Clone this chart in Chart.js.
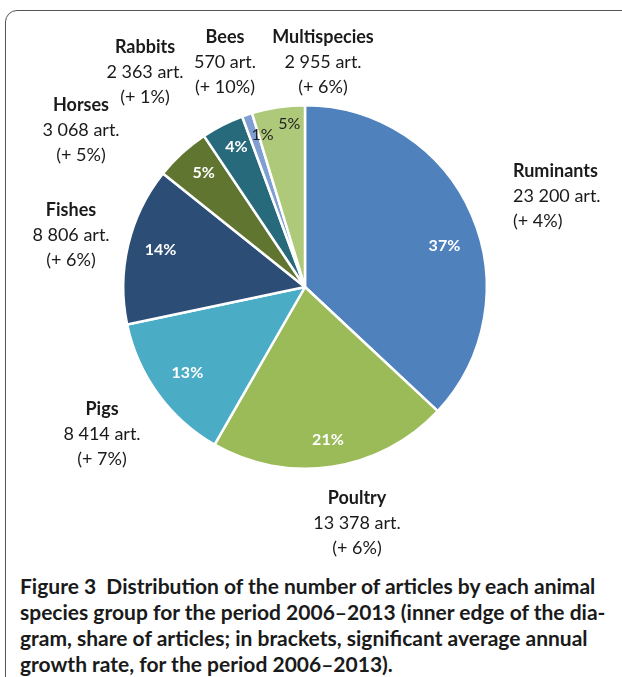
<!DOCTYPE html>
<html>
<head>
<meta charset="utf-8">
<script src="https://cdn.jsdelivr.net/npm/chart.js@4"></script>
<style>
  html, body { margin: 0; padding: 0; background: #fff; }
  body { width: 622px; height: 677px; position: relative; overflow: hidden; }
  #frame {
    position: absolute; left: 5px; top: 10px; width: 700px; height: 720px;
    border: 1.5px solid #555; border-radius: 12px;
  }
  #wrap { position: absolute; left: 0; top: 0; width: 622px; height: 565px; }
  #caption {
    position: absolute; left: 20px; top: 573px; white-space: nowrap;
    font-family: Lato, "Open Sans", sans-serif; font-weight: 700;
    font-size: 21px; line-height: 26px; color: #1a1a1a;
  }
</style>
</head>
<body>
<div id="frame"></div>
<div id="wrap"><canvas id="pie" width="622" height="565"></canvas></div>
<div id="caption">
  Figure 3&nbsp; Distribution of the number of articles by each animal<br>
  species group for the period 2006–2013 (inner edge of the dia-<br>
  gram, share of articles; in brackets, significant average annual<br>
  growth rate, for the period 2006–2013).
</div>
<script>
// 動物種グループ別の論文数 (2006–2013)
const groups = ["Ruminants", "Poultry", "Pigs", "Fishes", "Horses", "Rabbits", "Bees", "Multispecies"];
const articles = [23200, 13378, 8414, 8806, 3068, 2363, 570, 2955];
const growth = ["(+ 4%)", "(+ 6%)", "(+ 7%)", "(+ 6%)", "(+ 5%)", "(+ 1%)", "(+ 10%)", "(+ 6%)"];
const colors = ["#4f81bd", "#9bbb59", "#4bacc6", "#2c4d75", "#5f7530", "#276a7c", "#7f9fd2", "#afc97a"];
const pctColors = ["#fff", "#fff", "#fff", "#fff", "#fff", "#fff", "#222", "#222"];

// 外側ラベルの位置 (1行目の中心) と揃え
const outerLabels = [
  { x: 513, y: 171, align: "left" },
  { x: 357, y: 498, align: "center" },
  { x: 102, y: 409, align: "center" },
  { x: 71, y: 210, align: "center" },
  { x: 81, y: 105, align: "center" },
  { x: 145, y: 47, align: "center" },
  { x: 225, y: 37, align: "center" },
  { x: 323, y: 37, align: "center" },
];
// 内側の%ラベル: 半径方向の位置と角度の微調整 (度)
const pctRadius = [0.80, 0.85, 0.80, 0.82, 0.84, 0.86, 0.87, 0.90];
const pctTurn = [7, 0, 0, 1, 1, 1, 3, 3];

function fmt(n) {
  return String(n).replace(/\B(?=(\d{3})+(?!\d))/g, " ");
}

const labelPlugin = {
  id: "pieLabels",
  afterDraw(chart) {
    const ctx = chart.ctx;
    const meta = chart.getDatasetMeta(0);
    const total = articles.reduce((s, v) => s + v, 0);
    ctx.save();
    ctx.textBaseline = "middle";

    meta.data.forEach((arc, i) => {
      const p = arc.getProps(["x", "y", "startAngle", "endAngle", "outerRadius"], true);
      const mid = (p.startAngle + p.endAngle) / 2 + (pctTurn[i] * Math.PI) / 180;
      const r = p.outerRadius * pctRadius[i];
      const pct = Math.round((articles[i] / total) * 100) + "%";
      ctx.fillStyle = pctColors[i];
      ctx.font = (pctColors[i] === "#fff" ? "bold " : "") + "16px Lato, sans-serif";
      ctx.textAlign = "center";
      ctx.fillText(pct, p.x + Math.cos(mid) * r, p.y + Math.sin(mid) * r);
    });

    ctx.fillStyle = "#1a1a1a";
    outerLabels.forEach((pos, i) => {
      ctx.textAlign = pos.align;
      ctx.font = "bold 18px Lato, sans-serif";
      ctx.fillText(groups[i], pos.x, pos.y);
      ctx.font = "18px Lato, sans-serif";
      ctx.fillText(fmt(articles[i]) + " art.", pos.x, pos.y + 25);
      ctx.fillText(growth[i], pos.x, pos.y + 50);
    });
    ctx.restore();
  },
};

new Chart(document.getElementById("pie"), {
  type: "pie",
  data: {
    labels: groups,
    datasets: [{
      data: articles,
      backgroundColor: colors,
      borderColor: "#fff",
      borderWidth: 2.5,
    }],
  },
  options: {
    responsive: false,
    animation: false,
    layout: { padding: { left: 122, right: 134, top: 104, bottom: 95 } },
    plugins: {
      legend: { display: false },
      tooltip: { enabled: false },
    },
  },
  plugins: [labelPlugin],
});
</script>
</body>
</html>
